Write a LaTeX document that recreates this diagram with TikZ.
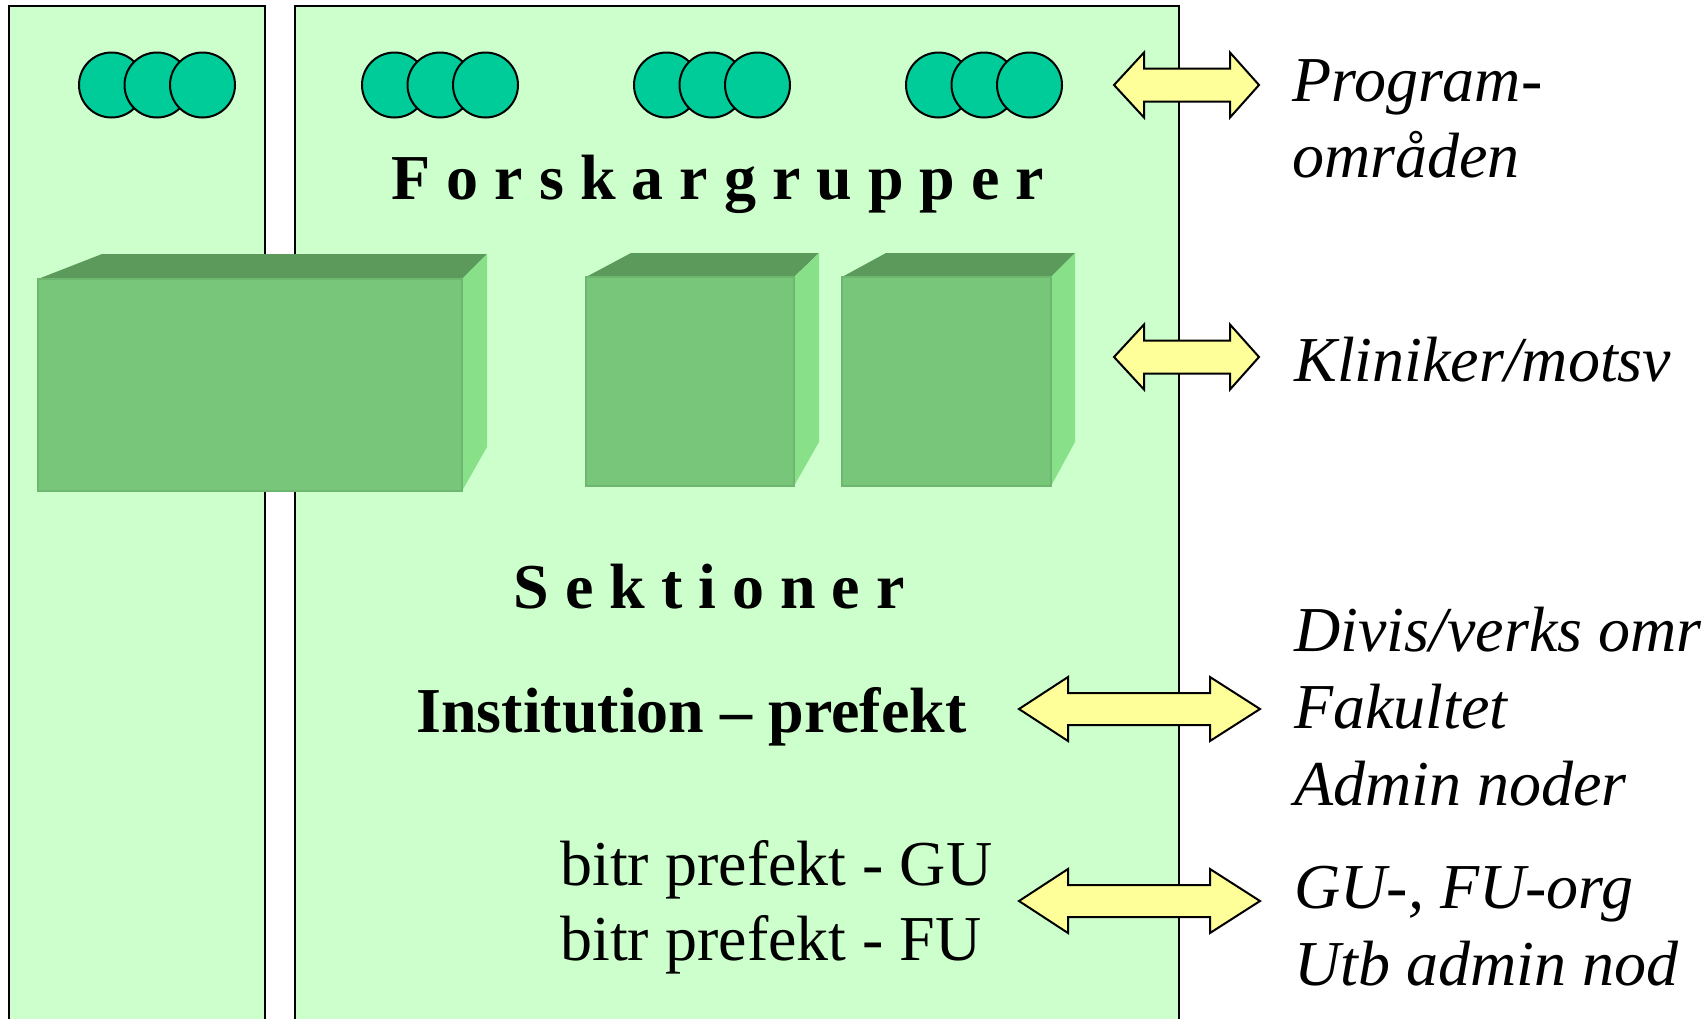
\documentclass[tikz,border=0pt]{standalone}
\usepackage{fontspec}
\setmainfont{Liberation Serif}
\definecolor{panelbg}{HTML}{CCFFCC}
\definecolor{dotfill}{HTML}{00CC99}
\definecolor{boxfront}{HTML}{77C679}
\definecolor{boxedge}{HTML}{6DB86E}
\definecolor{boxtop}{HTML}{5C9A5C}
\definecolor{boxside}{HTML}{88E088}
\definecolor{arrowfill}{HTML}{FFFF99}
\tikzset{
  panel/.style={fill=panelbg, draw=black, line width=1.4pt},
  dot/.style={fill=dotfill, draw=black, line width=1pt},
  front/.style={fill=boxfront, draw=boxedge, line width=0.8pt},
  topface/.style={fill=boxtop},
  sideface/.style={fill=boxside},
  dblarrow/.style={fill=arrowfill, draw=black, line width=1pt, line join=miter},
  lbl/.style={anchor=base west, inner sep=0pt, font=\fontsize{32}{38}\selectfont},
  ilbl/.style={lbl, font=\fontsize{32}{38}\selectfont\itshape},
  blbl/.style={anchor=base, inner sep=0pt, font=\fontsize{32}{38}\selectfont\bfseries},
}
\begin{document}
\begin{tikzpicture}[x=0.5pt, y=-0.5pt]
\useasboundingbox (0,0) rectangle (1708,1018);
\fill[white] (0,0) rectangle (1708,1018);

% panels (open at bottom)
\path[fill=panelbg] (9,6) rectangle (265,1020);
\draw[line width=1.4pt] (9,1020) -- (9,6) -- (265,6) -- (265,1020);
\path[fill=panelbg] (295,6) rectangle (1179,1020);
\draw[line width=1.4pt] (295,1020) -- (295,6) -- (1179,6) -- (1179,1020);

% research group circles
\foreach \c/\n in {157/a, 440/b, 712/c, 984/d}{
  \draw[dot] (\c-45.5,85) circle[radius=32.5];
  \draw[dot] (\c,85) circle[radius=32.5];
  \draw[dot] (\c+45.5,85) circle[radius=32.5];
}

\node[blbl] (forsk) at (718,199) {F o r s k a r g r u p p e r};

% boxes (sections)
% big box
\fill[topface] (38,279) -- (102,254) -- (487,254) -- (462,279) -- cycle;
\fill[sideface] (462,279) -- (487,254) -- (487,447) -- (462,491) -- cycle;
\draw[front] (38,279) rectangle (462,491);
% box 2
\fill[topface] (586,277) -- (631,253) -- (819,253) -- (794,277) -- cycle;
\fill[sideface] (794,277) -- (819,253) -- (819,442) -- (794,486) -- cycle;
\draw[front] (586,277) rectangle (794,486);
% box 3
\fill[topface] (842,277) -- (886,253) -- (1075,253) -- (1051,277) -- cycle;
\fill[sideface] (1051,277) -- (1075,253) -- (1075,442) -- (1051,486) -- cycle;
\draw[front] (842,277) rectangle (1051,486);

\node[blbl] (sekt) at (709,608) {S e k t i o n e r};
\node[lbl, font=\fontsize{32}{38}\selectfont\bfseries] (inst) at (416,732) {Institution – prefekt};
\node[lbl] (bgu) at (560,885) {bitr prefekt - GU};
\node[lbl] (bfu) at (560,960) {bitr prefekt - FU};

% double arrows
\draw[dblarrow] (1114,85) -- (1144,52.5) -- (1144,68.5) -- (1230,68.5) -- (1230,52.5) -- (1259,85)
  -- (1230,117.5) -- (1230,101.5) -- (1144,101.5) -- (1144,117.5) -- cycle;
\draw[dblarrow] (1114,357) -- (1144,324.5) -- (1144,340.5) -- (1230,340.5) -- (1230,324.5) -- (1259,357)
  -- (1230,389.5) -- (1230,373.5) -- (1144,373.5) -- (1144,389.5) -- cycle;
\draw[dblarrow] (1019,709) -- (1068,677) -- (1068,693) -- (1210,693) -- (1210,677) -- (1260,709)
  -- (1210,741) -- (1210,725) -- (1068,725) -- (1068,741) -- cycle;
\draw[dblarrow] (1019,901) -- (1068,869) -- (1068,885) -- (1210,885) -- (1210,869) -- (1260,901)
  -- (1210,933) -- (1210,917) -- (1068,917) -- (1068,933) -- cycle;

% right-hand labels
\node[ilbl] (prog1) at (1292,101) {Program-};
\node[ilbl] (prog2) at (1292,177) {områden};
\node[ilbl] (klin) at (1294,381) {Kliniker/motsv};
\node[ilbl] (divis) at (1294,651) {Divis/verks omr};
\node[ilbl] (fak) at (1294,728) {Fakultet};
\node[ilbl] (adm) at (1294,805) {Admin noder};
\node[ilbl] (gufu) at (1294,908) {GU-, FU-org};
\node[ilbl] (utb) at (1294,985) {Utb admin nod};
\end{tikzpicture}
\end{document}
